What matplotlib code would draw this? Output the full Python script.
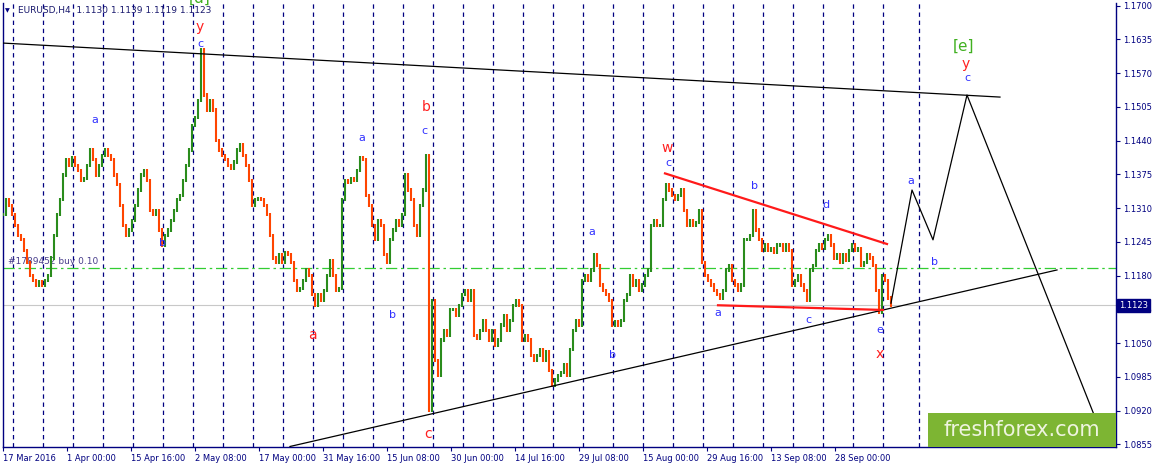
import numpy as np
import matplotlib
matplotlib.use("Agg")
import matplotlib.pyplot as plt
from matplotlib.patches import Rectangle

# データ (EURUSD H4, 3本ごとの終値)
closes = [
    1.1297, 1.1326, 1.1316, 1.1297, 1.1277, 1.1258, 1.1249, 1.1229, 1.1206, 1.1181,
    1.1171, 1.1162, 1.1168, 1.1162, 1.1171, 1.1181, 1.1214, 1.1258, 1.1297, 1.1326,
    1.1374, 1.1403, 1.1393, 1.1407, 1.1393, 1.1383, 1.1364, 1.1368, 1.1393, 1.1422,
    1.1403, 1.1374, 1.1393, 1.1412, 1.1422, 1.1412, 1.1403, 1.1374, 1.1355, 1.1316,
    1.1277, 1.1258, 1.1268, 1.1287, 1.1316, 1.1345, 1.1374, 1.1383, 1.1364, 1.1306,
    1.1297, 1.1306, 1.1268, 1.1239, 1.1258, 1.1268, 1.1287, 1.1306, 1.1326, 1.1335,
    1.1364, 1.1393, 1.1422, 1.1470, 1.1484, 1.1518, 1.1615, 1.1528, 1.1499, 1.1518,
    1.1499, 1.1441, 1.1422, 1.1412, 1.1403, 1.1393, 1.1387, 1.1399, 1.1422, 1.1432,
    1.1412, 1.1393, 1.1364, 1.1316, 1.1326, 1.1329, 1.1326, 1.1316, 1.1297, 1.1258,
    1.1214, 1.1206, 1.1220, 1.1206, 1.1225, 1.1220, 1.1206, 1.1171, 1.1152, 1.1156,
    1.1171, 1.1191, 1.1181, 1.1143, 1.1123, 1.1143, 1.1133, 1.1152, 1.1181, 1.1210,
    1.1181, 1.1152, 1.1156, 1.1326, 1.1364, 1.1360, 1.1368, 1.1364, 1.1383, 1.1407,
    1.1403, 1.1335, 1.1316, 1.1277, 1.1249, 1.1287, 1.1277, 1.1220, 1.1206, 1.1249,
    1.1268, 1.1287, 1.1277, 1.1297, 1.1374, 1.1345, 1.1326, 1.1277, 1.1258, 1.1316,
    1.1345, 1.1412, 1.0921, 1.1133, 1.1017, 1.0988, 1.1056, 1.1075, 1.1065, 1.1114,
    1.1114, 1.1104, 1.1123, 1.1143, 1.1152, 1.1133, 1.1152, 1.1065, 1.1060, 1.1075,
    1.1094, 1.1075, 1.1056, 1.1075, 1.1046, 1.1056, 1.1085, 1.1104, 1.1075, 1.1094,
    1.1123, 1.1133, 1.1123, 1.1056, 1.1065, 1.1056, 1.1027, 1.1017, 1.1027, 1.1037,
    1.1017, 1.1033, 1.0998, 1.0969, 1.0979, 1.0988, 1.0994, 1.1008, 1.0988, 1.1037,
    1.1075, 1.1094, 1.1085, 1.1171, 1.1181, 1.1171, 1.1191, 1.1220, 1.1200, 1.1162,
    1.1152, 1.1143, 1.1133, 1.1085, 1.1091, 1.1085, 1.1094, 1.1133, 1.1143, 1.1181,
    1.1162, 1.1171, 1.1152, 1.1162, 1.1181, 1.1191, 1.1277, 1.1287, 1.1277, 1.1277,
    1.1326, 1.1355, 1.1345, 1.1335, 1.1326, 1.1335, 1.1345, 1.1306, 1.1277, 1.1287,
    1.1277, 1.1283, 1.1306, 1.1206, 1.1181, 1.1171, 1.1162, 1.1152, 1.1143, 1.1137,
    1.1152, 1.1191, 1.1200, 1.1171, 1.1162, 1.1152, 1.1162, 1.1249, 1.1249, 1.1258,
    1.1306, 1.1268, 1.1249, 1.1229, 1.1239, 1.1229, 1.1233, 1.1225, 1.1239, 1.1239,
    1.1229, 1.1239, 1.1229, 1.1162, 1.1171, 1.1181, 1.1162, 1.1152, 1.1133, 1.1191,
    1.1200, 1.1229, 1.1239, 1.1233, 1.1249, 1.1258, 1.1239, 1.1214, 1.1220, 1.1206,
    1.1220, 1.1210, 1.1229, 1.1239, 1.1229, 1.1233, 1.1200, 1.1206, 1.1220, 1.1214,
    1.1200, 1.1152, 1.1110, 1.1181, 1.1171, 1.1137, 1.1123,
]
bar_step = 3  # 1サンプル = 3本

# 時間軸ラベル (64本ごと)
time_labels = ["17 Mar 2016", "1 Apr 00:00", "15 Apr 16:00", "2 May 08:00", "17 May 00:00",
               "31 May 16:00", "15 Jun 08:00", "30 Jun 00:00", "14 Jul 16:00", "29 Jul 08:00",
               "15 Aug 00:00", "29 Aug 16:00", "13 Sep 08:00", "28 Sep 00:00"]
price_ticks = [1.1700, 1.1635, 1.1570, 1.1505, 1.1440, 1.1375, 1.1310,
               1.1245, 1.1180, 1.1115, 1.1050, 1.0985, 1.0920, 1.0855]

buy_level = 1.1195
last_price = 1.1123

# トレンドライン (本数, 価格)
top_line = ([0, 997], [1.1628, 1.1524])
bottom_line = ([287, 1054], [1.0851, 1.1191])
red_upper = ([662, 884], [1.1377, 1.1241])
red_lower = ([715, 880], [1.1123, 1.1114])
forecast = ([888, 909, 930, 964, 1103], [1.1127, 1.1345, 1.1249, 1.1528, 1.0854])

# 波動ラベル (本数, 価格, 文字, 色)
blue = "#3030ff"
red = "#ff2020"
green = "#40b020"
wave_labels = [
    (197, 1.1659, "y", red), (197, 1.1626, "c", blue),
    (92, 1.1480, "a", blue), (159, 1.1243, "b", blue),
    (309, 1.1065, "a", red), (359, 1.1445, "a", blue), (390, 1.1104, "b", blue),
    (423, 1.1505, "b", red), (421, 1.1459, "c", blue), (425, 1.0875, "c", red),
    (589, 1.1264, "a", blue), (609, 1.1027, "b", blue),
    (664, 1.1426, "w", red), (665, 1.1397, "c", blue),
    (715, 1.1108, "a", blue), (751, 1.1353, "b", blue), (805, 1.1094, "c", blue),
    (823, 1.1316, "d", blue), (877, 1.1075, "e", blue), (877, 1.1029, "x", red),
    (908, 1.1362, "a", blue), (931, 1.1206, "b", blue),
    (961, 1.1622, "[e]", green), (963, 1.1588, "y", red), (964, 1.1561, "c", blue),
]

navy = "#000080"
bull = "#2a8c1c"
bear = "#ff4500"

fig = plt.figure(figsize=(11.55, 4.68), dpi=100)
ax = fig.add_axes([3 / 1155, 21 / 468, 1113 / 1155, 444 / 468])
ax.set_xlim(0, 1113)
ax.set_ylim(1.0850, 1.17052)

# 週の区切り線
for xv in list(range(10, 900, 30)) + [916]:
    ax.axvline(xv, color=navy, lw=0.9, ls=(0, (3.5, 3)), zorder=1)

# 水平線
ax.axhline(buy_level, color="#32cd32", lw=0.9, ls=(0, (9, 3, 2, 3)), zorder=2)
ax.axhline(last_price, color="#c8c8c8", lw=0.8, zorder=1)
ax.text(5, buy_level + 0.0003, "#1789452 buy 0.10", color="#483d8b", fontsize=6.5,
        va="bottom", zorder=2)

# ローソク足 (前の終値 -> 終値)
xs = np.arange(len(closes)) * bar_step
opens = [closes[0]] + closes[:-1]
lo = np.minimum(opens, closes) - 0.0003
hi = np.maximum(opens, closes) + 0.0003
cols = [bull if c >= o else bear for o, c in zip(opens, closes)]
ax.vlines(xs, lo, hi, colors=cols, lw=1.5, zorder=3)

# トレンドライン
ax.plot(*top_line, color="black", lw=0.9, zorder=4)
ax.plot(*bottom_line, color="black", lw=0.9, zorder=4)
ax.plot(*red_upper, color="#ff1a1a", lw=1.6, zorder=4)
ax.plot(*red_lower, color="#ff1a1a", lw=1.6, zorder=4)
ax.plot(*forecast, color="black", lw=0.9, zorder=4)

# 波動ラベル
for bx, py, txt, col in wave_labels:
    size = 8 if col == blue else 10
    if col == green:
        size = 11
    ax.text(bx, py, txt, color=col, fontsize=size, ha="center", va="center", zorder=5)
# 上端で切れている緑のラベル
ax.text(197, 1.1699, "[d]", color=green, fontsize=11, ha="center", va="bottom",
        clip_on=False, zorder=5)

# 軸
ax.spines["top"].set_visible(False)
for s in ["left", "right", "bottom"]:
    ax.spines[s].set_color(navy)
    ax.spines[s].set_linewidth(1)
ax.yaxis.tick_right()
ax.set_yticks(price_ticks)
ax.set_yticklabels(["%.4f" % p for p in price_ticks])
ax.set_xticks(np.arange(len(time_labels)) * 64)
ax.set_xticklabels(time_labels)
for lbl in ax.get_xticklabels():
    lbl.set_ha("left")
ax.tick_params(axis="both", colors=navy, labelsize=6, length=3, width=0.8, pad=2)

# 現在値ラベル
ax.annotate("%.4f" % last_price, xy=(1.0, last_price), xycoords=("axes fraction", "data"),
            xytext=(2, 0), textcoords="offset points", va="center", ha="left",
            fontsize=6, color="white", annotation_clip=False,
            bbox=dict(boxstyle="square,pad=0.25", fc=navy, ec=navy), zorder=6)

# タイトル
fig.text(5 / 1155, 1 - 11 / 468, "\u25bc", fontsize=4.5, color=navy, va="center")
fig.text(18 / 1155, 1 - 11 / 468, "EURUSD,H4  1.1130 1.1139 1.1119 1.1123",
         fontsize=6.5, color="#1a1a6e", va="center")

# ロゴ
fig.patches.append(Rectangle((928 / 1155, 21 / 468), 188 / 1155, 34 / 468,
                             transform=fig.transFigure, fc="#7db533", ec="none", zorder=10))
fig.text(1022 / 1155, 38 / 468, "freshforex.com", fontsize=15, color="#eef4df",
         ha="center", va="center", zorder=11)

fig.savefig("out.png", dpi=100, facecolor="white")
